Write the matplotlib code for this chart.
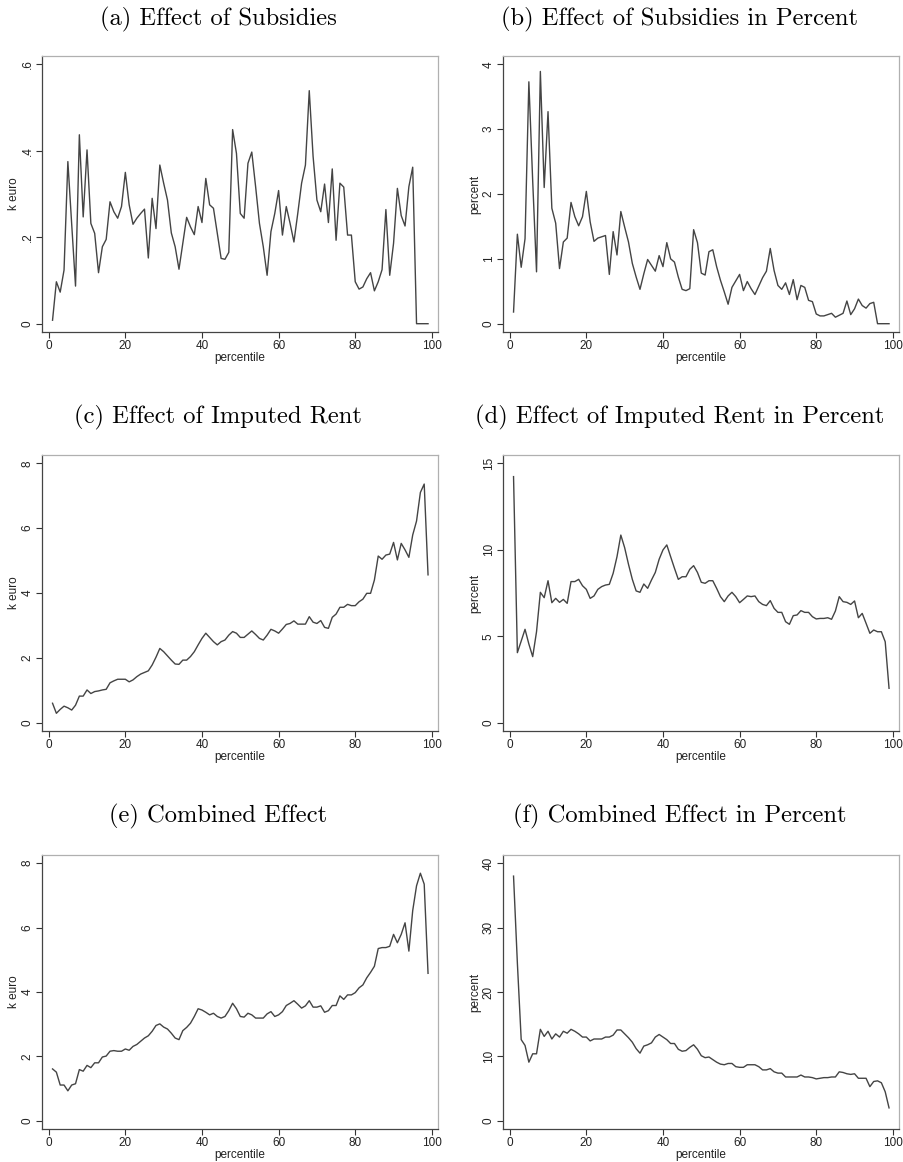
import matplotlib
matplotlib.use('Agg')
import matplotlib.pyplot as plt
import numpy as np

plt.rcParams['font.family'] = ['Liberation Sans', 'DejaVu Sans']

# percentiles 1..99
pct = np.arange(1, 100)

# (a) effect of subsidies, k euro
subs_keuro = [
    0.008, 0.097, 0.073, 0.124, 0.375, 0.230, 0.087, 0.437, 0.247, 0.402,
    0.232, 0.209, 0.118, 0.178, 0.195, 0.282, 0.259, 0.244, 0.271, 0.350,
    0.275, 0.230, 0.244, 0.255, 0.265, 0.152, 0.290, 0.220, 0.367, 0.325,
    0.286, 0.210, 0.178, 0.126, 0.186, 0.246, 0.224, 0.206, 0.271, 0.234,
    0.336, 0.275, 0.267, 0.209, 0.151, 0.149, 0.165, 0.449, 0.394, 0.255,
    0.244, 0.371, 0.397, 0.317, 0.232, 0.178, 0.112, 0.213, 0.255, 0.308,
    0.205, 0.271, 0.232, 0.189, 0.255, 0.325, 0.367, 0.539, 0.387, 0.286,
    0.259, 0.323, 0.234, 0.358, 0.193, 0.325, 0.316, 0.205, 0.205, 0.097,
    0.080, 0.085, 0.104, 0.118, 0.076, 0.097, 0.125, 0.264, 0.112, 0.186,
    0.313, 0.250, 0.226, 0.317, 0.362, 0.0, 0.0, 0.0, 0.0,
]

# (b) effect of subsidies, percent
subs_pct = [
    0.18, 1.38, 0.87, 1.31, 3.73, 2.20, 0.80, 3.89, 2.10, 3.27,
    1.78, 1.55, 0.85, 1.26, 1.32, 1.87, 1.65, 1.51, 1.65, 2.04,
    1.57, 1.27, 1.32, 1.34, 1.36, 0.76, 1.42, 1.06, 1.73, 1.49,
    1.26, 0.93, 0.72, 0.53, 0.77, 0.99, 0.90, 0.81, 1.05, 0.88,
    1.25, 1.00, 0.95, 0.72, 0.53, 0.51, 0.54, 1.45, 1.25, 0.78,
    0.75, 1.11, 1.14, 0.88, 0.67, 0.49, 0.30, 0.56, 0.66, 0.76,
    0.51, 0.65, 0.54, 0.45, 0.58, 0.71, 0.81, 1.16, 0.82, 0.59,
    0.53, 0.63, 0.45, 0.68, 0.37, 0.59, 0.56, 0.36, 0.34, 0.15,
    0.12, 0.12, 0.14, 0.16, 0.10, 0.13, 0.16, 0.35, 0.14, 0.23,
    0.38, 0.28, 0.24, 0.31, 0.33, 0.0, 0.0, 0.0, 0.0,
]

# (c) effect of imputed rent, k euro
rent_keuro = [
    0.60, 0.29, 0.41, 0.51, 0.46, 0.39, 0.54, 0.82, 0.82, 1.01,
    0.90, 0.96, 0.98, 1.01, 1.03, 1.23, 1.29, 1.34, 1.34, 1.34,
    1.26, 1.32, 1.42, 1.50, 1.55, 1.60, 1.78, 2.02, 2.29, 2.19,
    2.06, 1.93, 1.81, 1.80, 1.93, 1.93, 2.04, 2.19, 2.40, 2.60,
    2.76, 2.63, 2.50, 2.40, 2.50, 2.55, 2.70, 2.81, 2.76, 2.63,
    2.63, 2.73, 2.83, 2.72, 2.60, 2.55, 2.70, 2.88, 2.83, 2.76,
    2.89, 3.03, 3.06, 3.14, 3.04, 3.04, 3.04, 3.27, 3.10, 3.06,
    3.15, 2.94, 2.91, 3.25, 3.35, 3.56, 3.56, 3.65, 3.61, 3.61,
    3.73, 3.81, 3.99, 3.99, 4.40, 5.14, 5.04, 5.17, 5.20, 5.56,
    5.02, 5.53, 5.33, 5.10, 5.79, 6.22, 7.10, 7.36, 4.56,
]

# (d) effect of imputed rent, percent
rent_pct = [
    14.23, 4.05, 4.72, 5.40, 4.55, 3.82, 5.26, 7.54, 7.23, 8.21,
    6.94, 7.19, 6.96, 7.13, 6.90, 8.16, 8.16, 8.29, 7.92, 7.71,
    7.19, 7.33, 7.71, 7.87, 7.96, 8.00, 8.64, 9.60, 10.85, 10.12,
    9.16, 8.29, 7.62, 7.54, 8.02, 7.77, 8.25, 8.69, 9.45, 9.99,
    10.28, 9.60, 8.93, 8.29, 8.44, 8.44, 8.87, 9.08, 8.69, 8.12,
    8.06, 8.21, 8.21, 7.77, 7.29, 7.00, 7.33, 7.54, 7.29, 6.94,
    7.13, 7.33, 7.29, 7.33, 7.00, 6.84, 6.77, 7.06, 6.61, 6.38,
    6.38, 5.84, 5.69, 6.19, 6.23, 6.48, 6.38, 6.38, 6.13, 6.00,
    6.03, 6.03, 6.07, 5.98, 6.46, 7.29, 7.00, 6.96, 6.84, 7.04,
    6.07, 6.32, 5.75, 5.17, 5.36, 5.26, 5.26, 4.68, 1.99,
]

# (e) combined effect, k euro
comb_keuro = [
    1.61, 1.51, 1.11, 1.11, 0.93, 1.11, 1.15, 1.59, 1.54, 1.72,
    1.65, 1.80, 1.80, 1.98, 2.01, 2.16, 2.18, 2.16, 2.16, 2.23,
    2.19, 2.31, 2.37, 2.47, 2.57, 2.64, 2.78, 2.96, 3.01, 2.91,
    2.85, 2.72, 2.57, 2.52, 2.80, 2.90, 3.03, 3.24, 3.48, 3.44,
    3.37, 3.29, 3.34, 3.24, 3.19, 3.24, 3.42, 3.65, 3.48, 3.24,
    3.22, 3.34, 3.29, 3.19, 3.19, 3.19, 3.32, 3.39, 3.24, 3.29,
    3.39, 3.58, 3.65, 3.73, 3.62, 3.50, 3.57, 3.73, 3.53, 3.53,
    3.57, 3.37, 3.42, 3.58, 3.58, 3.88, 3.77, 3.91, 3.91, 3.98,
    4.13, 4.22, 4.44, 4.61, 4.80, 5.35, 5.38, 5.38, 5.42, 5.79,
    5.53, 5.79, 6.15, 5.27, 6.53, 7.30, 7.69, 7.35, 4.58,
]

# (f) combined effect, percent
comb_pct = [
    38.0, 24.5, 12.6, 11.7, 9.1, 10.4, 10.4, 14.2, 13.1, 13.9,
    12.7, 13.5, 13.0, 13.9, 13.6, 14.2, 13.9, 13.5, 13.0, 13.0,
    12.4, 12.7, 12.7, 12.7, 13.0, 13.0, 13.3, 14.1, 14.1, 13.5,
    12.9, 12.2, 11.2, 10.5, 11.6, 11.8, 12.1, 13.0, 13.4, 13.0,
    12.6, 12.0, 12.0, 11.1, 10.8, 10.9, 11.4, 11.8, 11.1, 10.1,
    9.8, 9.9, 9.5, 9.1, 8.8, 8.7, 8.9, 8.9, 8.4, 8.3,
    8.3, 8.7, 8.7, 8.7, 8.4, 7.9, 7.9, 8.1, 7.6, 7.4,
    7.4, 6.8, 6.8, 6.8, 6.8, 7.1, 6.8, 6.8, 6.7, 6.5,
    6.6, 6.7, 6.7, 6.8, 6.8, 7.6, 7.5, 7.3, 7.2, 7.3,
    6.6, 6.6, 6.6, 5.3, 6.1, 6.2, 5.9, 4.5, 2.0,
]

titles = [
    '(a) Effect of Subsidies', '(b) Effect of Subsidies in Percent',
    '(c) Effect of Imputed Rent', '(d) Effect of Imputed Rent in Percent',
    '(e) Combined Effect', '(f) Combined Effect in Percent',
]
ylabels = ['k euro', 'percent'] * 3
series = [subs_keuro, subs_pct, rent_keuro, rent_pct, comb_keuro, comb_pct]
yticks = [
    ([0, 0.2, 0.4, 0.6], ['0', '.2', '.4', '.6']),
    ([0, 1, 2, 3, 4], ['0', '1', '2', '3', '4']),
    ([0, 2, 4, 6, 8], ['0', '2', '4', '6', '8']),
    ([0, 5, 10, 15], ['0', '5', '10', '15']),
    ([0, 2, 4, 6, 8], ['0', '2', '4', '6', '8']),
    ([0, 10, 20, 30, 40], ['0', '10', '20', '30', '40']),
]
ytop = [0.6, 4, 8, 15, 8, 40]

W, H = 904, 1162
fig = plt.figure(figsize=(W / 100, H / 100), dpi=100)
fig.patch.set_facecolor('white')

# axes boxes in pixels: left, top, right, bottom
boxes = [
    (42, 56, 438, 332), (503, 56, 899, 332),
    (42, 455, 438, 731), (503, 455, 899, 731),
    (42, 855, 438, 1129), (503, 855, 899, 1129),
]
title_x = [218, 680] * 3
title_y = [19, 19, 417, 417, 816, 816]

for i, (l, t, r, b) in enumerate(boxes):
    ax = fig.add_axes([l / W, 1 - b / H, (r - l) / W, (b - t) / H])
    ax.plot(pct, series[i], color='#444444', linewidth=1.0)

    pad = ytop[i] * 0.032
    ax.set_ylim(-pad, ytop[i] + pad)
    ax.set_xlim(-1.75, 101.6)
    ax.set_xticks([0, 20, 40, 60, 80, 100])
    ax.set_yticks(yticks[i][0])
    ax.set_yticklabels(yticks[i][1], rotation=90, va='center')

    ax.tick_params(labelsize=8.5, length=4, width=0.8, color='#333333',
                   labelcolor='#222222', pad=2)
    for s in ['left', 'bottom']:
        ax.spines[s].set_color('#444444')
        ax.spines[s].set_linewidth(0.9)
    for s in ['top', 'right']:
        ax.spines[s].set_color('#b0b0b0')
        ax.spines[s].set_linewidth(0.9)

    ax.set_xlabel('percentile', fontsize=8.5, color='#222222', labelpad=0)
    ax.set_ylabel(ylabels[i], fontsize=8.5, color='#222222', labelpad=1)

    fig.text(title_x[i] / W, 1 - title_y[i] / H, titles[i], family='cmr10',
             fontsize=17.7, ha='center', va='center')

fig.savefig('out.png', dpi=100, facecolor='white')
